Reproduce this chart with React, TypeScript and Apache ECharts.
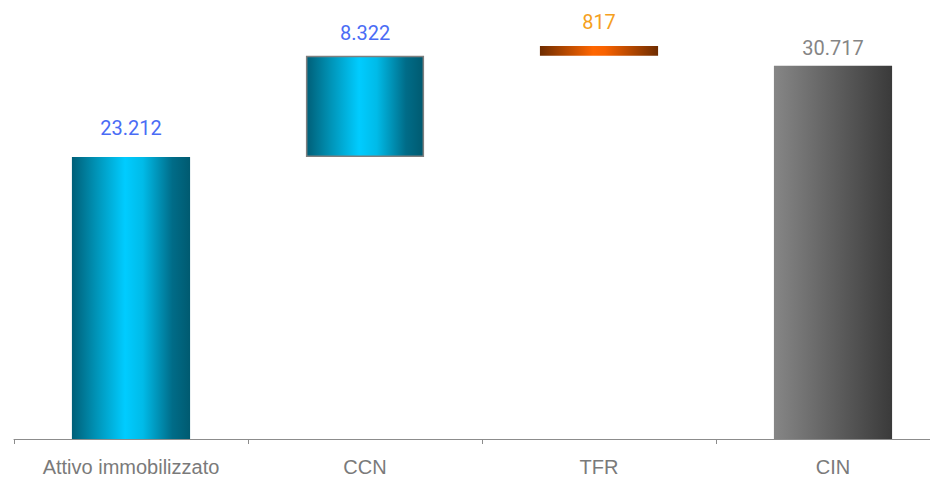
import React, { useEffect, useRef } from "react";
import * as echarts from "echarts";

const categories = ["Attivo immobilizzato", "CCN", "TFR", "CIN"];
const values = [23212, 8322, 817, 30717];
const valueLabels = ["23.212", "8.322", "817", "30.717"];
// whether a bar starts from the running total (floating) or from zero
const floating = [false, true, true, false];

const blue = {
  type: "linear", x: 0, y: 0, x2: 1, y2: 0,
  colorStops: [
    { offset: 0, color: "#005f78" },
    { offset: 0.2, color: "#0092b5" },
    { offset: 0.45, color: "#00ccff" },
    { offset: 0.6, color: "#00bbe8" },
    { offset: 0.85, color: "#006c88" },
    { offset: 1, color: "#005a70" },
  ],
};
const orange = {
  type: "linear", x: 0, y: 0, x2: 1, y2: 0,
  colorStops: [
    { offset: 0, color: "#6e2c00" },
    { offset: 0.45, color: "#ff6600" },
    { offset: 0.55, color: "#f86200" },
    { offset: 1, color: "#6e2c00" },
  ],
};
const gray = {
  type: "linear", x: 0, y: 0, x2: 1, y2: 0,
  colorStops: [
    { offset: 0, color: "#868686" },
    { offset: 1, color: "#3a3a3a" },
  ],
};

const fills = [blue, blue, orange, gray];
const labelColors = ["#4a6cf5", "#4a6cf5", "#f5a020", "#858585"];
const labelDist = [19, 13, 14, 8];

export default function App() {
  const ref = useRef<HTMLDivElement>(null);
  useEffect(() => {
    if (!ref.current) return;
    const chart = echarts.init(ref.current, null, { renderer: "svg" });
    let running = 0;
    const bases: number[] = [];
    values.forEach((v, i) => {
      if (floating[i]) {
        bases.push(running);
        running += v;
      } else {
        bases.push(0);
        running = v;
      }
    });
    chart.setOption({
      animation: false,
      grid: { left: 14, right: -20, top: 1.6, bottom: 40, outerBoundsMode: "none", containLabel: false },
      xAxis: {
        type: "category",
        data: categories,
        axisLine: { lineStyle: { color: "#8c8c8c", width: 1 } },
        axisTick: { show: true, length: 5, lineStyle: { color: "#8c8c8c" } },
        axisLabel: {
          color: "#7a7a7a",
          fontSize: 20,
          fontFamily: "'Liberation Sans', Arial, sans-serif",
          margin: 18,
        },
      },
      yAxis: {
        type: "value",
        min: 0,
        max: 36000,
        show: false,
        splitLine: { show: false },
      },
      series: [
        {
          type: "bar",
          stack: "w",
          data: bases,
          itemStyle: { color: "transparent" },
          barWidth: "50.5%",
          silent: true,
        },
        {
          type: "bar",
          stack: "w",
          barWidth: "50.5%",
          data: values.map((v, i) => ({
            value: v,
            itemStyle: {
              color: fills[i],
              borderColor: i === 1 ? "#7f7f7f" : "transparent",
              borderWidth: i === 1 ? 1.5 : 0,
            },
            label: {
              show: true,
              position: "top",
              distance: labelDist[i],
              formatter: valueLabels[i],
              color: labelColors[i],
              fontSize: 20,
              fontFamily: "Roboto, Arial, sans-serif",
            },
          })),
        },
      ],
    });
    return () => chart.dispose();
  }, []);
  return (
    <div
      ref={ref}
      style={{ position: "fixed", left: 0, top: 0, width: 930, height: 479, background: "#fff" }}
    />
  );
}
